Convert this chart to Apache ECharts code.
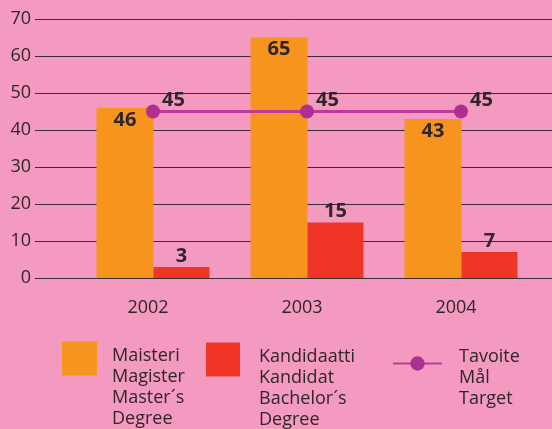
<!DOCTYPE html>
<html>
<head>
<meta charset="utf-8">
<script src="https://cdn.jsdelivr.net/npm/echarts@6/dist/echarts.min.js"></script>
<style>
  html, body { margin: 0; padding: 0; background: #f49ac0; }
  #chart { width: 552px; height: 429px; }
</style>
</head>
<body>
<div id="chart"></div>
<script>
// data
const years = ['2002', '2003', '2004'];
const master = [46, 65, 43];
const bachelor = [3, 15, 7];
const target = [45, 45, 45];
const yMin = 0, yMax = 70, yStep = 10;

const nameMaster = 'Maisteri\nMagister\nMaster´s\nDegree';
const nameBachelor = 'Kandidaatti\nKandidat\nBachelor´s\nDegree';
const nameTarget = 'Tavoite\nMål\nTarget';

const ink = '#2e2629';
const font = 'Open Sans';

// legend text sits below the icon centre, so push it down with an empty first line
const legendText = (padTop, padLeft) => ({
  color: ink, fontFamily: font, fontSize: 18, lineHeight: 21,
  padding: [0, 0, 0, padLeft],
  rich: { p: { lineHeight: padTop, fontSize: 1 } }
});
const pushDown = name => '{p| }\n' + name;

const chart = echarts.init(document.getElementById('chart'));
chart.setOption({
  backgroundColor: '#f49ac0',
  animation: false,
  textStyle: { fontFamily: font },
  grid: [
    { left: 35, right: 0, top: 19, bottom: 151 },   // gridlines + y labels
    { left: 76, right: 14, top: 19, bottom: 151 }   // bars
  ],
  xAxis: [
    { gridIndex: 0, type: 'value', show: false },
    {
      gridIndex: 1, type: 'category', data: years,
      axisLine: { show: false }, axisTick: { show: false },
      axisLabel: { margin: 21, fontSize: 18, color: ink, fontFamily: font, padding: [0, 10, 0, 0] }
    }
  ],
  yAxis: [
    {
      gridIndex: 0, type: 'value', min: yMin, max: yMax, interval: yStep,
      axisLine: { show: false }, axisTick: { show: false },
      axisLabel: { margin: 4, fontSize: 18, color: ink, fontFamily: font },
      splitLine: { lineStyle: { color: '#3a2c32', width: 1 } }
    },
    { gridIndex: 1, type: 'value', min: yMin, max: yMax, interval: yStep, show: false }
  ],
  legend: [
    {
      data: [nameMaster], left: 62, top: 288, padding: 0, selectedMode: false,
      icon: 'rect', itemWidth: 35, itemHeight: 34,
      formatter: pushDown, textStyle: legendText(57, 10)
    },
    {
      data: [nameBachelor], left: 206, top: 289, padding: 0, selectedMode: false,
      icon: 'rect', itemWidth: 34, itemHeight: 34,
      formatter: pushDown, textStyle: legendText(57, 14)
    },
    {
      data: [nameTarget], left: 392, top: 318, padding: 0, selectedMode: false,
      itemWidth: 49, itemHeight: 18,
      formatter: pushDown, textStyle: legendText(28, 12)
    }
  ],
  series: [
    {
      name: nameMaster, type: 'bar', xAxisIndex: 1, yAxisIndex: 1,
      data: master, barWidth: 57, barGap: '0%',
      itemStyle: { color: '#f7941e' },
      label: { show: true, position: 'insideTop', distance: 2, color: ink, fontSize: 20, fontWeight: 'bold', fontFamily: font }
    },
    {
      name: nameBachelor, type: 'bar', xAxisIndex: 1, yAxisIndex: 1,
      data: bachelor, barWidth: 56, barGap: '0%',
      itemStyle: { color: '#ef3526' },
      label: { show: true, position: 'top', distance: 1, color: ink, fontSize: 20, fontWeight: 'bold', fontFamily: font }
    },
    {
      name: nameTarget, type: 'line', xAxisIndex: 1, yAxisIndex: 1,
      data: target, symbol: 'circle', symbolSize: 14,
      lineStyle: { color: '#bb3a9b', width: 3 },
      itemStyle: { color: '#ad2f8f' },
      label: { show: true, position: 'right', distance: 2, offset: [0, -11], color: ink, fontSize: 20, fontWeight: 'bold', fontFamily: font }
    }
  ]
});
</script>
</body>
</html>
